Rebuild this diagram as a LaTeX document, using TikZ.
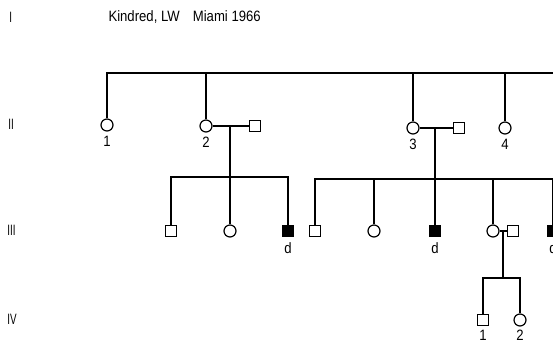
\documentclass[tikz,border=0pt]{standalone}
\usepackage{fontspec}
\setmainfont{Liberation Sans}
\begin{document}
\begin{tikzpicture}[x=1pt,y=-1pt,
  line width=1.2pt,
  fem/.style={circle,draw,line width=1.2pt,minimum size=12pt,inner sep=0pt},
  mal/.style={rectangle,draw,line width=1.2pt,minimum size=11pt,inner sep=0pt},
  aff/.style={mal,fill=black},
  lbl/.style={font=\fontsize{15}{15}\selectfont,xscale=0.875,inner sep=0pt},
  gen/.style={lbl,xscale=0.75,anchor=west}]
\useasboundingbox (0,0) rectangle (553,342);
\clip (0,0) rectangle (553,342);
% generation labels and title
\node[gen] (gI) at (9,17) {I};
\node[gen] (gII) at (8,124) {II};
\node[gen] (gIII) at (7,230) {III};
\node[gen] (gIV) at (7,319) {IV};
\node[lbl,anchor=west] (title) at (108,17) {Kindred, LW\quad Miami 1966};
% generation II
\coordinate (top) at (570,73);
\node[fem] (f1) at (107,125) {};
\node[fem] (f2) at (206,126) {};
\node[mal] (m2) at (255,126) {};
\node[fem] (f3) at (413,128) {};
\node[mal] (m3) at (459,128) {};
\node[fem] (f4) at (505,128) {};
\node[lbl] (l1) at (107,141) {1};
\node[lbl] (l2) at (206,142) {2};
\node[lbl] (l3) at (413,144) {3};
\node[lbl] (l4) at (505,144) {4};
\draw (f1.north) |- (top);
\draw (f2.north) -- (f2.north |- top);
\draw (f3.north) -- (f3.north |- top);
\draw (f4.north) -- (f4.north |- top);
\draw (f2) -- (m2);
\draw (f3) -- (m3);
\coordinate (d2) at (230,126);
\coordinate (d3) at (435,128);
% generation III, sibship 1
\coordinate (L1) at (0,177);
\node[mal] (s1) at (171,231) {};
\node[fem] (c1) at (230,231) {};
\node[aff] (a1) at (288,231) {};
\node[lbl] (la1) at (288,248) {d};
\draw (d2) -- (c1.north);
\draw (s1.north) |- (a1.north |- L1) -- (a1.north);
% generation III, sibship 2
\coordinate (L2) at (570,179);
\node[mal] (s2) at (315,231) {};
\node[fem] (c2) at (374,231) {};
\node[aff] (a2) at (435,231) {};
\node[fem] (f5) at (493,231) {};
\node[mal] (m5) at (513,231) {};
\node[aff] (a3) at (553,231) {};
\node[lbl] (la2) at (435,248) {d};
\node[lbl] (la3) at (553,248) {d};
\draw (d3) -- (a2.north);
\draw (s2.north) |- (L2);
\draw (c2.north) -- (c2.north |- L2);
\draw (f5.north) -- (f5.north |- L2);
\draw (a3.north) -- (a3.north |- L2);
\draw (f5) -- (m5);
\coordinate (d5) at (503,231);
% generation IV
\coordinate (L3) at (0,278);
\node[mal] (q1) at (483,320) {};
\node[fem] (q2) at (520,320) {};
\node[lbl] (lq1) at (483,335) {1};
\node[lbl] (lq2) at (520,335) {2};
\draw (d5) -- (d5 |- L3);
\draw (q1.north) |- (q2.north |- L3) -- (q2.north);
\end{tikzpicture}
\end{document}
